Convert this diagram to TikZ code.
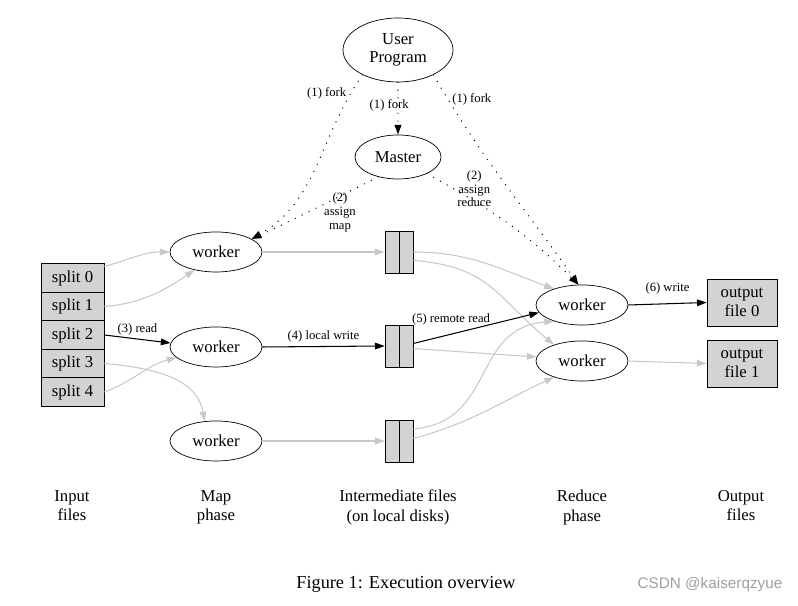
\documentclass[tikz,border=0pt]{standalone}
\usepackage{fontspec}
\setmainfont{Liberation Serif}
\newfontfamily\markfont{Liberation Sans}
\usetikzlibrary{shapes.geometric,arrows.meta,positioning}
\definecolor{boxgray}{RGB}{211,211,211}
\definecolor{linegray}{RGB}{200,200,200}

\begin{document}
\begin{tikzpicture}[x=0.2mm,y=0.2mm,
    proc/.style={draw,ellipse,inner sep=0pt,minimum width=18.4mm,minimum height=8mm,align=center,font=\fontsize{9.5}{10.5}\selectfont},
    split/.style={draw,fill=boxgray,minimum width=12.6mm,minimum height=5.7mm,inner sep=0pt,font=\fontsize{9.5}{11}\selectfont},
    ifile/.style={draw,fill=boxgray,minimum width=5.6mm,minimum height=8.4mm,inner sep=0pt},
    ofile/.style={draw,fill=boxgray,minimum width=14mm,minimum height=9.4mm,inner sep=0pt,align=center,font=\fontsize{9.5}{10.5}\selectfont},
    colname/.style={anchor=north,align=center,font=\fontsize{9.5}{11}\selectfont},
    lbl/.style={font=\fontsize{7.2}{7.8}\selectfont,align=center,inner sep=2pt},
    main/.style={line width=0.6pt,-{Triangle[length=5.5pt,width=3.8pt]}},
    side/.style={main,draw=linegray},
    ctrl/.style={line width=0.8pt,line cap=round,dash pattern=on 0pt off 4.4pt,-{Triangle[length=5.5pt,width=3.8pt]}}]
    % Draw page area
    \useasboundingbox (0,0) rectangle (798,606);
    % Draw user program and master
    \node[proc,minimum width=22mm,minimum height=12.8mm] (user) at (398,556) {User\\Program};
    \node[proc,minimum width=17.2mm,minimum height=8.8mm] (master) at (398,449) {Master};
    % Draw input splits
    \node[split] (split0) at (72.5,328) {split 0};
    \node[split] (split1) at (72.5,299.5) {split 1};
    \node[split] (split2) at (72.5,271) {split 2};
    \node[split] (split3) at (72.5,242.5) {split 3};
    \node[split] (split4) at (72.5,214) {split 4};
    % Draw map workers
    \node[proc] (map1) at (216,354) {worker};
    \node[proc] (map2) at (216,259) {worker};
    \node[proc] (map3) at (216,165) {worker};
    % Draw intermediate files
    \node[ifile] (file1) at (399,354) {};
    \node[ifile] (file2) at (399,260) {};
    \node[ifile] (file3) at (399,165) {};
    \draw (file1.north) -- (file1.south);
    \draw (file2.north) -- (file2.south);
    \draw (file3.north) -- (file3.south);
    % Draw reduce workers
    \node[proc] (red1) at (582,301) {worker};
    \node[proc] (red2) at (582,245) {worker};
    % Draw output files
    \node[ofile] (out0) at (742,303.5) {output\\file 0};
    \node[ofile] (out1) at (742,242.5) {output\\file 1};
    % Draw (1) fork and (2) assign
    \draw[ctrl] (user.215) to[out=235,in=30] node[lbl,pos=0.1,left] {(1) fork} (map1.20);
    \draw[ctrl] (user.south) -- node[lbl,pos=0.45,xshift=-5pt] {(1) fork} (master.north);
    \draw[ctrl] (user.325) to[out=300,in=125] node[lbl,pos=0.1,right] {(1) fork} (red1.100);
    \draw[ctrl] (master.225) to[out=207,in=25] node[lbl,pos=0.17,anchor=north east,xshift=3pt] {(2)\\assign\\map} (map1.20);
    \draw[ctrl] (master.330) to[out=331,in=135] node[lbl,pos=0.38,anchor=south east,xshift=3pt] {(2)\\assign\\reduce} (red1.100);
    % Draw (3) read
    \draw[side] (split0.20) to[out=15,in=180] (map1.west);
    \draw[side] (split1.east) to[out=5,in=214] (map1.220);
    \draw[main] (split2.east) -- node[lbl,above] {(3) read} (map2.175);
    \draw[side] (split3.east) to[out=-5,in=100] (map3.120);
    \draw[side] (split4.east) to[out=20,in=195] (map2.195);
    % Draw (4) local write
    \draw[side] (map1.east) -- (file1.west);
    \draw[main] (map2.east) -- node[lbl,above] {(4) local write} (file2.west);
    \draw[side] (map3.east) -- (file3.west);
    % Draw (5) remote read
    \draw[side] (file1.east) to[out=0,in=160] (red1.150);
    \draw[side] (file1.-30) to[out=-5,in=140,looseness=1.2] (red2.150);
    \draw[main] (file2.10) -- node[lbl,pos=0.3,above,yshift=3pt] {(5) remote read} (red1.190);
    \draw[side] (file2.-10) -- (red2.175);
    \draw[side] (file3.40) to[out=5,in=185,looseness=1.2] (red1.210);
    \draw[side] (file3.10) to[out=15,in=205] (red2.210);
    % Draw (6) write
    \draw[main] (red1.east) -- node[lbl,above,yshift=3pt] {(6) write} (out0.west);
    \draw[side] (red2.east) -- (out1.west);
    % Draw column names
    \node[colname] (colin) at (72,122) {Input\\files};
    \node[colname] (colmap) at (216,122) {Map\\phase};
    \node[colname] (colmid) at (398,122) {Intermediate files\\(on local disks)};
    \node[colname] (colred) at (582,122) {Reduce\\phase};
    \node[colname] (colout) at (741,122) {Output\\files};
    % Draw figure caption
    \node[font=\fontsize{10.4}{12}\selectfont] (caption) at (406,22) {Figure 1: Execution overview};
    \node[text=gray!75,font=\markfont\fontsize{8.7}{10}\selectfont] (mark) at (710,21) {CSDN @kaiserqzyue};
\end{tikzpicture}
\end{document}
